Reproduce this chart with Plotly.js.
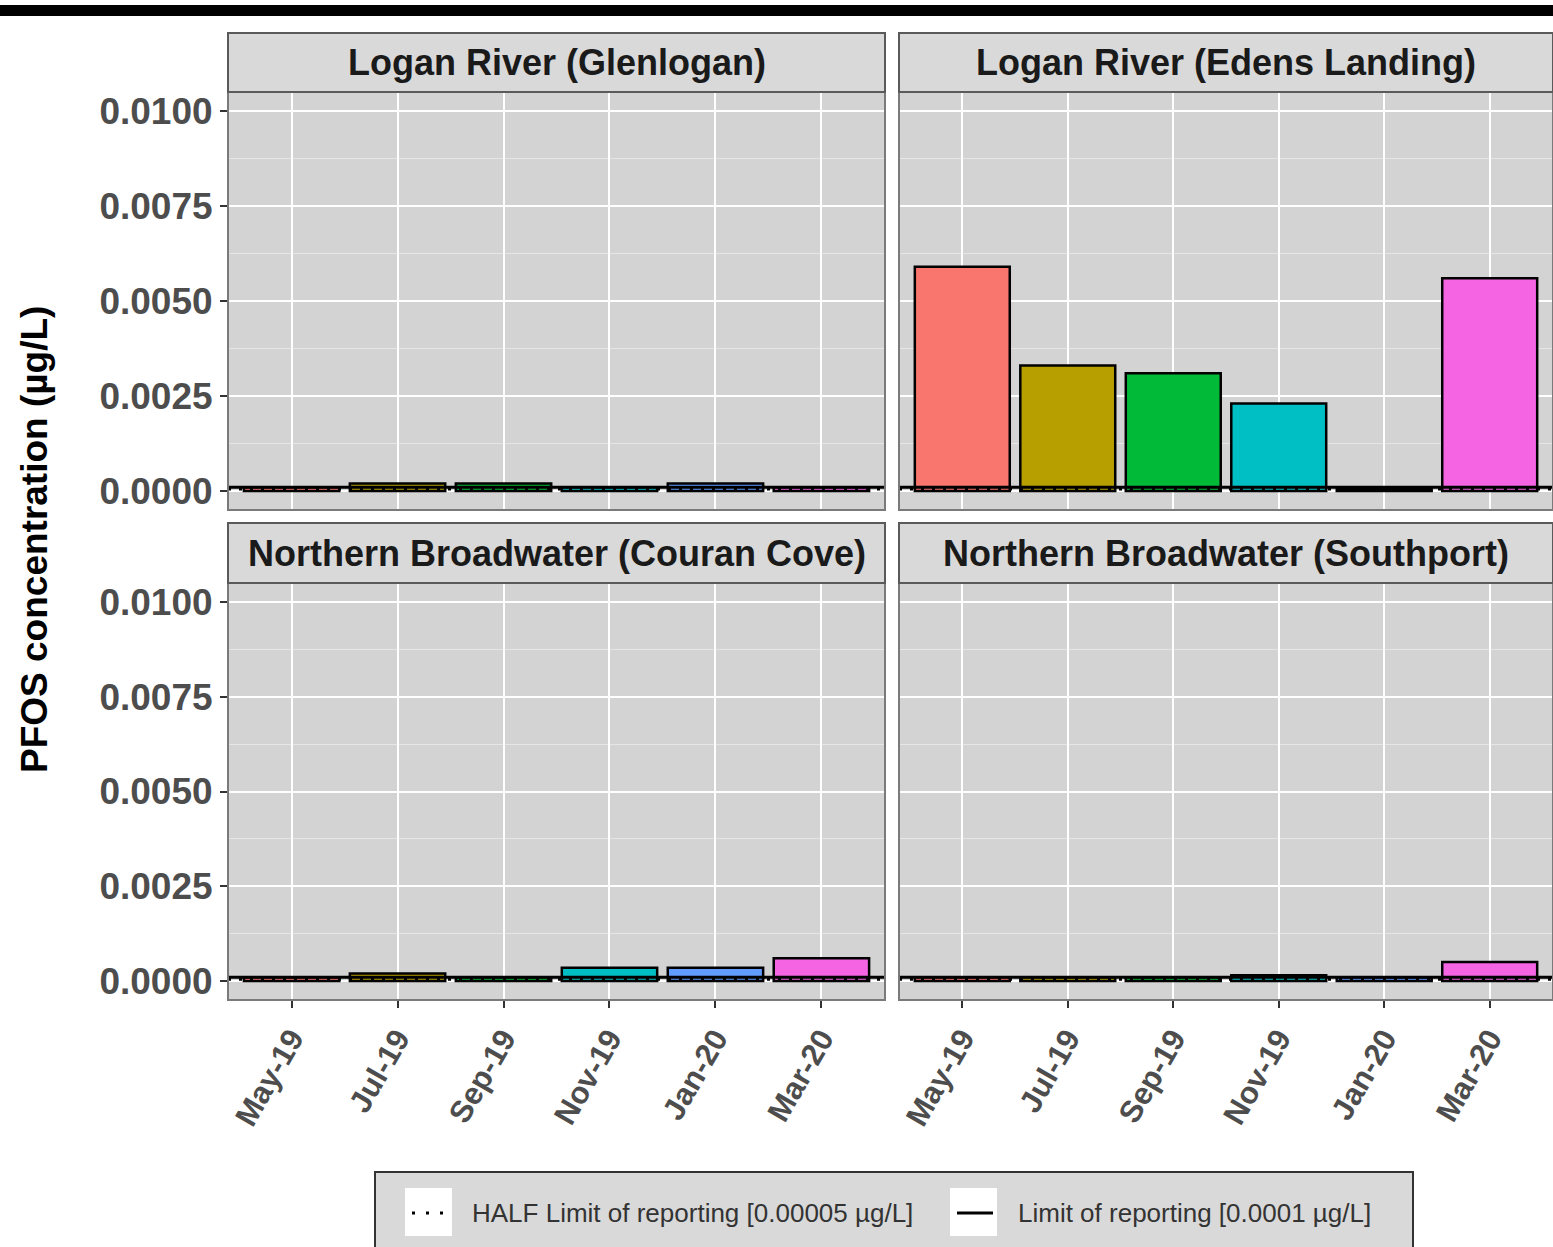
<!DOCTYPE html>
<html>
<head>
<meta charset="utf-8">
<script src="https://cdn.plot.ly/plotly-3.0.1.min.js"></script>
<style>html,body{margin:0;padding:0;background:#fff;}#chart{width:1553px;height:1247px;}</style>
</head>
<body>
<div id="chart"></div>
<script>
// ---- data ----
const months = ['May-19', 'Jul-19', 'Sep-19', 'Nov-19', 'Jan-20', 'Mar-20'];
const sites = ['Logan River (Glenlogan)', 'Logan River (Edens Landing)',
               'Northern Broadwater (Couran Cove)', 'Northern Broadwater (Southport)'];
const glenlogan    = [0.0001, 0.0002, 0.0002, 0.0001, 0.0002, 0.0001];
const edensLanding = [0.0059, 0.0033, 0.0031, 0.0023, 0.00005, 0.0056];
const couranCove   = [0.0001, 0.0002, 0.0001, 0.00035, 0.00035, 0.0006];
const southport    = [0.0001, 0.0001, 0.0001, 0.00015, 0.0001, 0.0005];
const barColors = ['#F8766D', '#B79F00', '#00BA38', '#00BFC4', '#619CFF', '#F564E3'];
const LOR = 0.0001;
const HALF_LOR = 0.00005;
const yTicks = [0, 0.0025, 0.005, 0.0075, 0.01];
const legendLabels = ['HALF Limit of reporting [0.00005 µg/L]', 'Limit of reporting [0.0001 µg/L]'];

// ---- layout helpers ----
const W = 1553, H = 1247;
const px = v => v / W;
const py = v => 1 - v / H;
const seriesList = [glenlogan, edensLanding, couranCove, southport];
const cols = [[228, 885], [899, 1553]];
const rows = [[92, 510], [583, 1000]];
const strips = [[33, 92], [523, 583]];

const tickFont = {family: 'Arial, Liberation Sans, sans-serif', size: 37, color: '#4d4d4d', weight: 'bold'};
const xTickFont = {family: 'Arial, Liberation Sans, sans-serif', size: 31, color: '#4d4d4d', weight: 'bold'};

const traces = [];
const layout = {
  width: W, height: H,
  margin: {l: 0, r: 0, t: 0, b: 0},
  paper_bgcolor: '#ffffff',
  plot_bgcolor: '#d3d3d3',
  showlegend: false,
  bargap: 0.1,
  shapes: [],
  annotations: []
};

seriesList.forEach((vals, i) => {
  const r = Math.floor(i / 2), c = i % 2;
  const n = i + 1;
  const xa = 'xaxis' + (n === 1 ? '' : n), ya = 'yaxis' + (n === 1 ? '' : n);
  const xr = 'x' + (n === 1 ? '' : n), yr = 'y' + (n === 1 ? '' : n);
  traces.push({
    type: 'bar', x: months, y: vals, xaxis: xr, yaxis: yr,
    width: 0.9,
    marker: {color: barColors, line: {color: '#000000', width: 2.5}},
    hoverinfo: 'x+y'
  });
  layout[xa] = {
    domain: [px(cols[c][0]), px(cols[c][1])],
    anchor: yr, type: 'category', range: [-0.6, 5.6],
    showgrid: true, gridcolor: '#ffffff', gridwidth: 2,
    zeroline: false, showline: false,
    showticklabels: r === 1,
    ticks: r === 1 ? 'outside' : '', ticklen: 7, tickwidth: 2, tickcolor: '#333333',
    tickangle: -60, tickfont: xTickFont, fixedrange: true
  };
  layout[ya] = {
    domain: [py(rows[r][1]), py(rows[r][0])],
    anchor: xr, range: [-0.0005, 0.0105],
    tickmode: 'array', tickvals: yTicks,
    ticktext: yTicks.map(v => v.toFixed(4)),
    showticklabels: c === 0,
    ticks: c === 0 ? 'outside' : '', ticklen: 7, tickwidth: 2, tickcolor: '#333333',
    tickfont: tickFont,
    showgrid: true, gridcolor: '#ffffff', gridwidth: 2,
    minor: {tickmode: 'array', tickvals: [0.00125, 0.00375, 0.00625, 0.00875], showgrid: true, gridcolor: '#e6e6e6', gridwidth: 1},
    zeroline: false, showline: false, fixedrange: true
  };
  // reference lines
  layout.shapes.push({type: 'line', xref: xr + ' domain', yref: yr, x0: 0, x1: 1, y0: LOR, y1: LOR,
    line: {color: '#000000', width: 3}, layer: 'above'});
  layout.shapes.push({type: 'line', xref: xr + ' domain', yref: yr, x0: 0, x1: 1, y0: HALF_LOR, y1: HALF_LOR,
    line: {color: '#000000', width: 3, dash: '3px,8px'}, layer: 'above'});
  // panel border
  layout.shapes.push({type: 'rect', xref: 'paper', yref: 'paper',
    x0: px(cols[c][0]), x1: px(cols[c][1]), y0: py(rows[r][1]), y1: py(rows[r][0]),
    line: {color: '#7a7a7a', width: 2}, fillcolor: 'rgba(0,0,0,0)', layer: 'above'});
  // strip
  layout.shapes.push({type: 'rect', xref: 'paper', yref: 'paper',
    x0: px(cols[c][0]), x1: px(cols[c][1]), y0: py(strips[r][1]), y1: py(strips[r][0]),
    line: {color: '#5a5a5a', width: 2}, fillcolor: '#d9d9d9', layer: 'above'});
  layout.annotations.push({xref: 'paper', yref: 'paper',
    x: px((cols[c][0] + Math.min(cols[c][1], 1555)) / 2), y: py((strips[r][0] + strips[r][1]) / 2),
    text: sites[i], showarrow: false, xanchor: 'center', yanchor: 'middle',
    font: {family: 'Arial, Liberation Sans, sans-serif', size: 36, color: '#1a1a1a', weight: 'bold'}});
});

// top black band
layout.shapes.push({type: 'rect', xref: 'paper', yref: 'paper', x0: 0, x1: 1, y0: py(16), y1: py(5),
  fillcolor: '#000000', line: {width: 0}, layer: 'above'});

// y axis title
layout.annotations.push({xref: 'paper', yref: 'paper', x: px(34), y: py(540),
  text: 'PFOS concentration (µg/L)', textangle: -90, showarrow: false,
  xanchor: 'center', yanchor: 'middle',
  font: {family: 'Arial, Liberation Sans, sans-serif', size: 37, color: '#000000', weight: 'bold'}});

// legend (drawn manually)
layout.shapes.push({type: 'rect', xref: 'paper', yref: 'paper', x0: px(375), x1: px(1413), y0: py(1262), y1: py(1172),
  fillcolor: '#d9d9d9', line: {color: '#333333', width: 2}, layer: 'above'});
[[405, 452], [950, 997]].forEach((k, j) => {
  layout.shapes.push({type: 'rect', xref: 'paper', yref: 'paper', x0: px(k[0]), x1: px(k[1]), y0: py(1236), y1: py(1188),
    fillcolor: '#ffffff', line: {width: 0}, layer: 'above'});
  layout.shapes.push({type: 'line', xref: 'paper', yref: 'paper', x0: px(k[0] + 7), x1: px(k[1] - 4), y0: py(1213), y1: py(1213),
    line: {color: '#000000', width: 3, dash: j === 0 ? '3px,11px' : 'solid'}, layer: 'above'});
});
[[470, legendLabels[0]], [1016, legendLabels[1]]].forEach(t => {
  layout.annotations.push({xref: 'paper', yref: 'paper', x: px(t[0]), y: py(1213), text: t[1],
    showarrow: false, xanchor: 'left', yanchor: 'middle',
    font: {family: 'Arial, Liberation Sans, sans-serif', size: 26, color: '#333333'}});
});

Plotly.newPlot('chart', traces, layout, {displayModeBar: false, staticPlot: true});
</script>
</body>
</html>
